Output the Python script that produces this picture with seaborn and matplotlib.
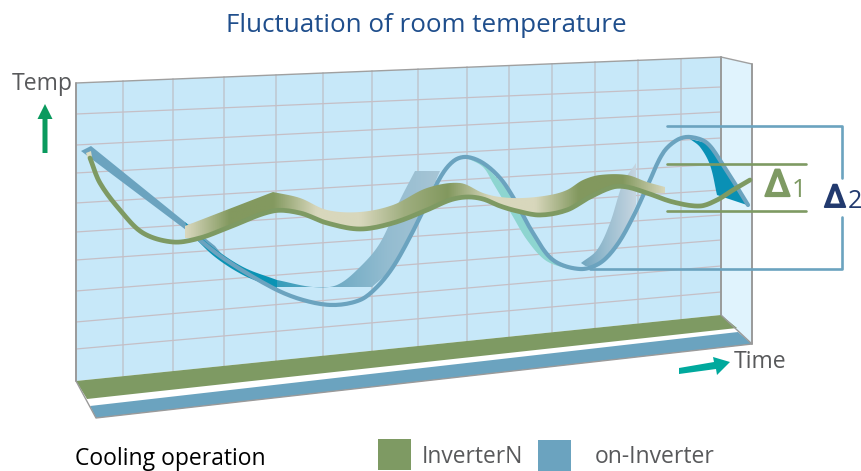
import numpy as np
import pandas as pd
import seaborn as sns
import matplotlib.pyplot as plt
import matplotlib.patheffects as pe
from matplotlib.colors import LinearSegmentedColormap
from matplotlib.patches import Polygon

# everything in pixels, y goes down
title = "Fluctuation of room temperature"
legend_labels = ["InverterN", "on-Inverter"]

green_x = [90, 100, 120, 143, 173, 200, 227, 273, 300, 327, 360, 393, 427, 450, 467, 483, 500, 517, 540, 567, 590, 613, 627, 647, 673, 700, 717, 733, 750]
green_y = [158, 183, 210, 233, 242, 238, 228, 211, 213, 223, 229, 223, 210, 200, 197, 199, 206, 211, 215, 210, 197, 187, 187, 193, 202, 206, 200, 190, 180]

blue_x = [190, 223, 273, 303, 333, 360, 377, 393, 410, 427, 443, 455, 467, 483, 500, 513, 533, 553, 580, 600, 617, 633, 647, 663, 677, 690, 707, 723, 737, 748]
blue_y = [232, 258, 288, 300, 305, 300, 287, 267, 237, 203, 173, 160, 157, 163, 178, 197, 233, 260, 269, 263, 245, 217, 187, 153, 140, 137, 143, 165, 187, 205]

ribbon_top_x = [185, 273]
ribbon_top_y = [226, 192]
ribbon_top2_x = [273, 300, 327, 360, 393, 427, 460, 483, 500, 523, 550, 567, 583, 600, 627, 647, 665]
ribbon_top2_y = [192, 198, 210, 212, 205, 188, 183, 193, 197, 198, 195, 190, 180, 175, 175, 182, 187]
ribbon_low_x = [665, 647, 627, 613, 590, 567, 540, 500, 483, 460, 427, 393, 360, 327, 300, 273, 227, 200, 185]
ribbon_low_y = [193, 193, 187, 187, 197, 210, 215, 206, 198, 198, 210, 223, 229, 223, 213, 211, 228, 238, 238]

# vertical and horizontal grid of the wall
grid_x = [123, 173, 224, 276, 323, 372, 418, 467, 509, 552, 595, 638, 681]
grid_left = [114, 145, 173, 203, 232, 260, 291, 322, 349]
grid_right = [87, 112, 138, 164, 190, 215, 240, 266, 292]

sns.set_style("white")
plt.rcParams['font.family'] = ['Open Sans', 'DejaVu Sans']

fig = plt.figure(figsize=(8.61, 4.71), dpi=100)
ax = fig.add_axes([0, 0, 1, 1])


def smooth(xs, ys, n=10):
    # curve through the read points, only changes how the line is drawn
    p = np.column_stack([xs, ys]).astype(float)
    d = np.hypot(*np.diff(p, axis=0).T)
    m = np.zeros_like(p)
    m[0] = (p[1] - p[0]) / d[0]
    m[-1] = (p[-1] - p[-2]) / d[-1]
    for i in range(1, len(p) - 1):
        m[i] = (p[i+1] - p[i-1]) / (d[i] + d[i-1])
    out = []
    for i in range(len(p) - 1):
        for t in np.linspace(0, 1, n, endpoint=False):
            h00 = 2*t**3 - 3*t**2 + 1
            h10 = t**3 - 2*t**2 + t
            h01 = -2*t**3 + 3*t**2
            h11 = t**3 - t**2
            out.append(h00*p[i] + h10*d[i]*m[i] + h01*p[i+1] + h11*d[i]*m[i+1])
    out.append(p[-1])
    out = np.array(out)
    return out[:, 0], out[:, 1]


def curve_pts(points):
    x, y = zip(*points)
    return list(zip(*smooth(x, y)))


def shape(points, color, z=2):
    p = Polygon(points, closed=True, facecolor=color, edgecolor="none", lw=0, zorder=z)
    ax.add_patch(p)
    return p


def gradient(points, stops, extent, z, vertical=False):
    # imshow clipped by a polygon, a plain way to get the shaded bands
    cmap = LinearSegmentedColormap.from_list("band", stops)
    g = np.linspace(0, 1, 256).reshape(1, -1)
    if vertical:
        g = g.T
    im = ax.imshow(g, extent=extent, cmap=cmap, aspect="auto", zorder=z, origin="upper")
    clip = Polygon(points, closed=True, transform=ax.transData, facecolor="none", edgecolor="none")
    ax.add_patch(clip)
    im.set_clip_path(clip)


def curve(xs, ys, color, lw, z):
    df = pd.DataFrame({"x": xs, "y": ys})
    sns.lineplot(data=df, x="x", y="y", sort=False, estimator=None, color=color, lw=lw, ax=ax, zorder=z)
    ax.lines[-1].set_data(*smooth(xs, ys))


# wall, side panel
shape([(76, 83), (721, 57), (721, 315), (76, 381)], "#c7e8f9", 1)
shape([(721, 57), (752, 64), (752, 344), (721, 315)], "#e0f3fd", 1)

for x in grid_x:
    top = 83 - 26 * (x - 76) / 645
    bot = 381 - 66 * (x - 76) / 645
    ax.plot([x, x], [top, bot], color="#bfc9d3", lw=1.2, zorder=1.5)
for a, b in zip(grid_left, grid_right):
    ax.plot([76, 721], [a, b], color="#c5bfc6", lw=0.9, zorder=1.5)

ax.plot([76, 721], [83, 57], color="#a0a0a0", lw=1, zorder=1.6)
ax.plot([721, 752], [57, 64], color="#a0a0a0", lw=1, zorder=1.6)
ax.plot([76, 76], [83, 381], color="#9a9a9a", lw=1.4, zorder=1.6)
ax.plot([721, 721], [57, 315], color="#9a9a9a", lw=1.4, zorder=1.6)
ax.plot([752, 752], [64, 344], color="#9a9a9a", lw=1.4, zorder=1.6)

# floor strips
shape([(76, 381), (721, 315), (737, 328), (87, 399)], "#7e9a63", 2)
shape([(90, 406), (738, 332), (752, 344), (96, 418)], "#6ba3bf", 2)
ax.plot([76, 96, 752, 721], [381, 418, 344, 315], color="#9a9a9a", lw=1, zorder=2.1)

# blue shading behind the curves
shape([(81, 151), (91, 146), (185, 222), (215, 246), (228, 262), (190, 233)], "#6ba3bf", 3)
shape(curve_pts([(185, 222), (210, 245), (243, 267), (277, 280)]) + curve_pts([(277, 288), (245, 276), (215, 257), (190, 233)]), "#0a93b4", 3)
gradient(curve_pts([(277, 280), (313, 287), (337, 285), (360, 267), (380, 243), (400, 200), (415, 171)])
         + curve_pts([(440, 171), (418, 220), (393, 267), (372, 287)]) + [(277, 287)],
         ["#2f9cba", "#6aa8c2", "#93bcd0", "#a9c6d6"], (270, 445, 300, 170), 3)
shape(curve_pts([(467, 158), (483, 167), (493, 183), (512, 215), (527, 240), (545, 260), (565, 268), (580, 270)])
      + curve_pts([(553, 260), (533, 233), (513, 197), (483, 163)]), "#8dd5d0", 3)
gradient(curve_pts([(636, 163), (623, 183), (610, 223), (597, 250), (581, 263)])
         + curve_pts([(587, 267), (600, 263), (617, 245), (636, 205)]),
         ["#6ea4be", "#9dbfd1", "#c8d6e1"], (580, 637, 162, 266), 3)
shape(curve_pts([(690, 139), (700, 147), (710, 165), (717, 195)]) + [(747, 205)]
      + curve_pts([(737, 187), (723, 165), (707, 143)]), "#0a90b5", 3)

# temperature curves
curve(blue_x, blue_y, "#6ba3bf", 3, 4)

# delta lines sit with the blue curve
ax.plot([667, 842, 842], [126, 126, 178], color="#6ba3bf", lw=1.9, zorder=4)
ax.plot([842, 842, 590], [217, 269, 269], color="#6ba3bf", lw=1.9, zorder=4)

ribbon = (list(zip(ribbon_top_x, ribbon_top_y))
          + list(zip(*smooth(ribbon_top2_x, ribbon_top2_y)))
          + list(zip(*smooth(ribbon_low_x, ribbon_low_y))))
gradient(ribbon,
         ["#d9d8be", "#83995f", "#83995f", "#d8d7bc", "#d8d7bc", "#9fae7f", "#82985e", "#d8d7bc", "#d8d7bc", "#82985e", "#82985e", "#d9d8be"],
         (185, 667, 240, 170), 5)
shape([(86, 153), (91, 151), (92, 157), (88, 159)], "#dcdcc2", 6)

curve(green_x, green_y, "#7e9a63", 3.4, 6)

ax.plot([667, 806], [164, 164], color="#7e9a63", lw=1.9, zorder=6)
ax.plot([667, 806], [211, 211], color="#7e9a63", lw=1.9, zorder=6)

# arrows
shape([(42.5, 153), (47.5, 153), (47.5, 119), (52.5, 119), (45, 104), (37.5, 119), (42.5, 119)], "#0a9a5e", 7)
shape([(679, 368), (714, 362), (713, 357), (730, 362), (717, 375), (716, 369), (679, 374)], "#00a99d", 7)

# text
ax.text(426, 25, title, color="#1f4e8c", fontsize=18.7, ha="center", va="center")
ax.text(12, 84, "Temp", color="#58595b", fontsize=16.6, va="center")
ax.text(734, 362, "Time", color="#58595b", fontsize=16.6, va="center")
ax.text(75, 459, "Cooling operation", color="#000000", fontsize=16.5, va="center")
ax.text(422, 457, legend_labels[0], color="#58595b", fontsize=16.4, va="center")
ax.text(595, 457, legend_labels[1], color="#58595b", fontsize=16.5, va="center")

fat = [pe.withStroke(linewidth=1.6, foreground="#7e9a63")]
ax.text(777.5, 196, "\u0394", color="#7e9a63", fontsize=26, family="DejaVu Sans", ha="center", va="baseline", path_effects=fat)
ax.text(799, 197, "1", color="#7e9a63", fontsize=18, ha="center", va="baseline")
fat = [pe.withStroke(linewidth=1.4, foreground="#223a6e")]
ax.text(835, 207, "\u0394", color="#223a6e", fontsize=22, family="DejaVu Sans", ha="center", va="baseline", path_effects=fat)
ax.text(854.5, 208, "2", color="#223a6e", fontsize=18, ha="center", va="baseline")

# legend squares
shape([(378, 439), (411, 439), (411, 470), (378, 470)], "#7e9a63", 2)
shape([(538, 440), (571, 440), (571, 471), (538, 471)], "#6ba3bf", 2)

ax.set_xlim(0, 861)
ax.set_ylim(471, 0)
ax.axis("off")
plt.savefig("out.png", dpi=100)
